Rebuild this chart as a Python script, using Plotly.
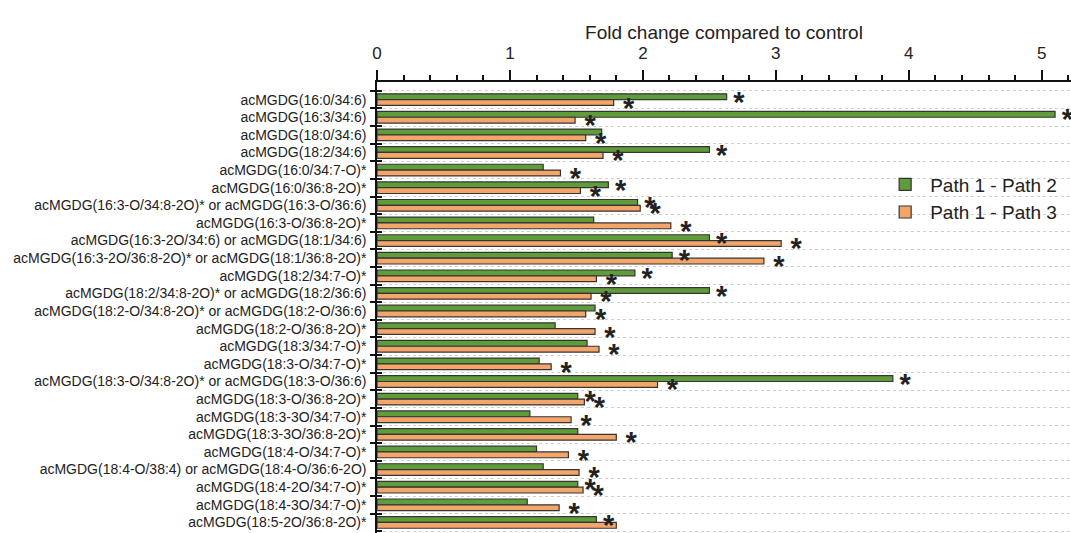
import plotly.graph_objects as go

labels = [
    "acMGDG(16:0/34:6)",
    "acMGDG(16:3/34:6)",
    "acMGDG(18:0/34:6)",
    "acMGDG(18:2/34:6)",
    "acMGDG(16:0/34:7-O)*",
    "acMGDG(16:0/36:8-2O)*",
    "acMGDG(16:3-O/34:8-2O)* or acMGDG(16:3-O/36:6)",
    "acMGDG(16:3-O/36:8-2O)*",
    "acMGDG(16:3-2O/34:6) or acMGDG(18:1/34:6)",
    "acMGDG(16:3-2O/36:8-2O)* or acMGDG(18:1/36:8-2O)*",
    "acMGDG(18:2/34:7-O)*",
    "acMGDG(18:2/34:8-2O)* or acMGDG(18:2/36:6)",
    "acMGDG(18:2-O/34:8-2O)* or acMGDG(18:2-O/36:6)",
    "acMGDG(18:2-O/36:8-2O)*",
    "acMGDG(18:3/34:7-O)*",
    "acMGDG(18:3-O/34:7-O)*",
    "acMGDG(18:3-O/34:8-2O)* or acMGDG(18:3-O/36:6)",
    "acMGDG(18:3-O/36:8-2O)*",
    "acMGDG(18:3-3O/34:7-O)*",
    "acMGDG(18:3-3O/36:8-2O)*",
    "acMGDG(18:4-O/34:7-O)*",
    "acMGDG(18:4-O/38:4) or acMGDG(18:4-O/36:6-2O)",
    "acMGDG(18:4-2O/34:7-O)*",
    "acMGDG(18:4-3O/34:7-O)*",
    "acMGDG(18:5-2O/36:8-2O)*",
]

path12 = [2.63, 5.10, 1.69, 2.50, 1.25, 1.74, 1.96, 1.63, 2.50, 2.22, 1.94, 2.50, 1.64,
          1.34, 1.58, 1.22, 3.88, 1.51, 1.15, 1.51, 1.20, 1.25, 1.51, 1.13, 1.65]
path13 = [1.78, 1.49, 1.57, 1.70, 1.38, 1.53, 1.98, 2.21, 3.04, 2.91, 1.65, 1.61, 1.57,
          1.64, 1.67, 1.31, 2.11, 1.56, 1.46, 1.80, 1.44, 1.52, 1.55, 1.37, 1.80]
sig12 = [1, 1, 0, 1, 0, 1, 1, 0, 1, 1, 1, 1, 0, 0, 0, 0, 1, 1, 0, 0, 0, 0, 1, 0, 1]
sig13 = [1] * 25

x_ticks = [0, 1, 2, 3, 4, 5]

GREEN = "#5f9c3a"
ORANGE = "#f4a66a"
EDGE = "#353535"
BARGAP = 0.34
FONT = "Liberation Sans, Arial, sans-serif"

n = len(labels)
idx = list(range(n))
half = (1 - BARGAP) / 4.0
star_dy = 0.44
star_dx = 0.05

fig = go.Figure()
fig.add_trace(go.Bar(y=labels, x=path12, orientation="h", name="Path 1 - Path 2",
                     marker=dict(color=GREEN, line=dict(color=EDGE, width=1.2))))
fig.add_trace(go.Bar(y=labels, x=path13, orientation="h", name="Path 1 - Path 3",
                     marker=dict(color=ORANGE, line=dict(color=EDGE, width=1.2))))

# significance stars (placed via the numeric overlay axis y2)
sx, sy = [], []
for i in idx:
    if sig12[i]:
        sx.append(path12[i] + star_dx); sy.append(i - half + star_dy)
    if sig13[i]:
        sx.append(path13[i] + star_dx * 1.4); sy.append(i + half + star_dy)
fig.add_trace(go.Scatter(x=sx, y=sy, yaxis="y2", mode="text", text=["<b>*</b>"] * len(sx),
                         textposition="middle right",
                         textfont=dict(size=29, color="#222222", family=FONT),
                         showlegend=False, hoverinfo="skip", cliponaxis=False))

yrange = [n - 0.4, -1.0]
fig.update_layout(
    width=1071, height=533,
    margin=dict(l=377, r=0, t=82, b=0),
    paper_bgcolor="white", plot_bgcolor="white",
    barmode="group", bargap=BARGAP, bargroupgap=0,
    font=dict(family=FONT, color="#222222"),
    xaxis=dict(side="top", range=[0, 5.22], tickvals=x_ticks,
               ticks="outside", ticklen=10, tickwidth=2, tickcolor="#111",
               showline=True, linecolor="#111", linewidth=2,
               showgrid=False, zeroline=False,
               tickfont=dict(size=17, color="#222"), ticklabelstandoff=4,
               minor=dict(dtick=0.2, ticks="outside", ticklen=5, tickwidth=1.5, tickcolor="#111"),
               title=dict(text="Fold change compared to control", font=dict(size=19, color="#222"),
                          standoff=0)),
    yaxis=dict(type="category", range=yrange, tickson="boundaries",
               ticks="outside", ticklen=5, tickwidth=1.5, tickcolor="#111",
               showline=True, linecolor="#111", linewidth=1.5,
               showgrid=False, tickfont=dict(size=14, color="#222"),
               ticklabelstandoff=6),
    yaxis2=dict(overlaying="y", range=yrange, side="left",
                tickvals=[i - 0.5 for i in range(n + 1)],
                ticks="inside", ticklen=5, tickwidth=1.5, tickcolor="#111",
                showticklabels=False, showline=False, zeroline=False,
                showgrid=True, gridcolor="#cfcfcf", griddash="dot", gridwidth=1),
    legend=dict(x=0.725, y=0.815, xanchor="left", yanchor="top",
                font=dict(size=19, color="#222"), bgcolor="rgba(0,0,0,0)",
                traceorder="normal", itemwidth=40, tracegroupgap=0),
)

fig.write_html("out.html")
